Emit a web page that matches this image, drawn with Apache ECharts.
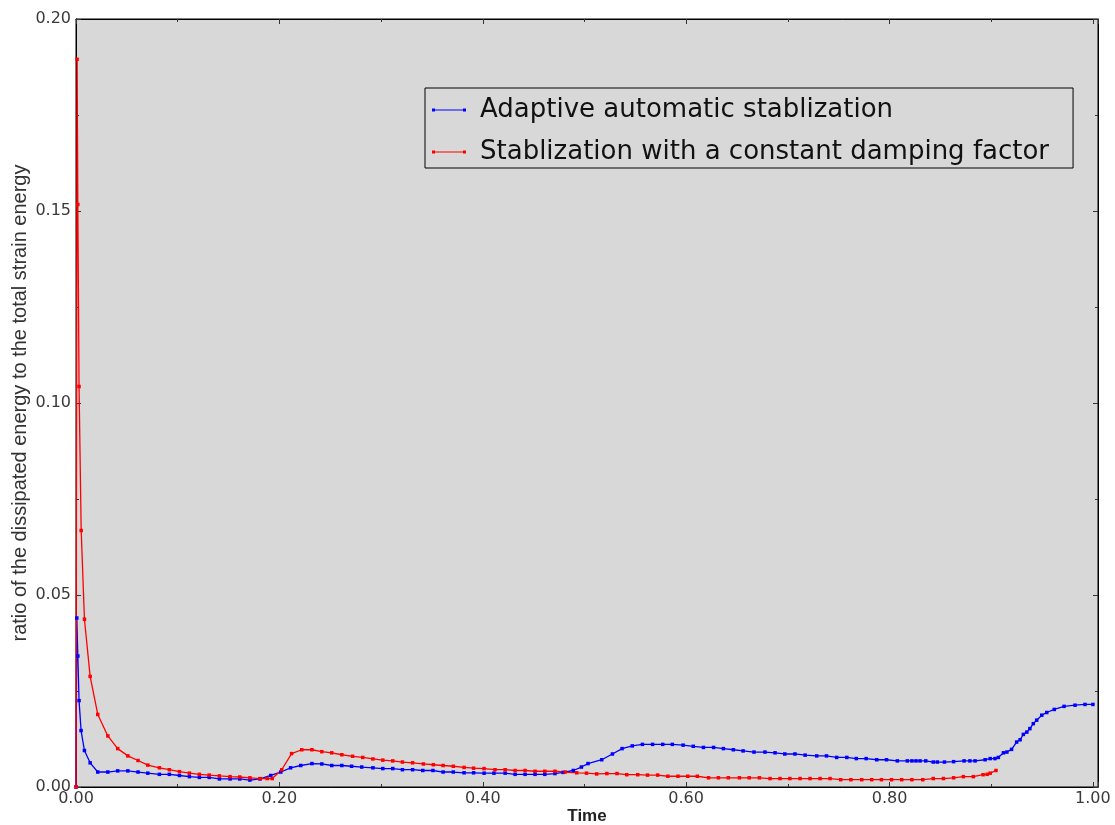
<!DOCTYPE html>
<html>
<head>
<meta charset="utf-8">
<script src="https://cdn.jsdelivr.net/npm/echarts@6/dist/echarts.min.js"></script>
<style>
html,body{margin:0;padding:0;background:#fff;}
#chart{width:1115px;height:825px;}
</style>
</head>
<body>
<div id="chart"></div>
<script>
const seriesNames = ['Adaptive automatic stablization', 'Stablization with a constant damping factor'];

const adaptiveTime = [0, 0.0008, 0.0018, 0.003, 0.005, 0.0083, 0.0139, 0.0214, 0.0313, 0.041, 0.051, 0.061, 0.0706, 0.082, 0.0918, 0.1017, 0.1115, 0.1213, 0.131, 0.141, 0.1515, 0.161, 0.171, 0.181, 0.1915, 0.2014, 0.211, 0.221, 0.232, 0.2417, 0.2515, 0.2614, 0.271, 0.281, 0.292, 0.3017, 0.3115, 0.321, 0.331, 0.341, 0.351, 0.361, 0.371, 0.3816, 0.391, 0.4013, 0.411, 0.422, 0.4318, 0.4416, 0.4514, 0.461, 0.471, 0.479, 0.489, 0.497, 0.5035, 0.517, 0.5275, 0.537, 0.547, 0.557, 0.567, 0.577, 0.5864, 0.597, 0.607, 0.617, 0.627, 0.6366, 0.6464, 0.656, 0.6667, 0.6775, 0.6874, 0.697, 0.707, 0.717, 0.7284, 0.738, 0.748, 0.758, 0.7673, 0.777, 0.7874, 0.797, 0.8077, 0.8175, 0.822, 0.826, 0.83, 0.8356, 0.843, 0.847, 0.854, 0.863, 0.8733, 0.879, 0.8841, 0.894, 0.899, 0.9037, 0.907, 0.912, 0.9154, 0.92, 0.925, 0.9284, 0.9316, 0.935, 0.938, 0.9414, 0.9447, 0.9497, 0.9546, 0.962, 0.9716, 0.9824, 0.9922, 1.0];
const adaptiveRatio = [0, 0.044, 0.0341, 0.0225, 0.0147, 0.0095, 0.0063, 0.0039, 0.0039, 0.0042, 0.0042, 0.0039, 0.0036, 0.0033, 0.0033, 0.003, 0.0027, 0.0025, 0.0025, 0.0021, 0.0021, 0.0021, 0.0018, 0.0021, 0.003, 0.0039, 0.005, 0.0056, 0.0061, 0.006, 0.0056, 0.0056, 0.0054, 0.0052, 0.005, 0.0048, 0.0048, 0.0045, 0.0045, 0.0043, 0.0043, 0.0039, 0.0039, 0.0037, 0.0037, 0.0036, 0.0036, 0.0036, 0.0033, 0.0033, 0.0033, 0.0033, 0.0035, 0.0038, 0.0043, 0.0052, 0.0061, 0.0071, 0.0086, 0.01, 0.0107, 0.0111, 0.0111, 0.0111, 0.0111, 0.0109, 0.0106, 0.0103, 0.0103, 0.01, 0.0097, 0.0094, 0.0091, 0.0091, 0.0089, 0.0086, 0.0086, 0.0083, 0.0081, 0.0081, 0.0077, 0.0077, 0.0074, 0.0074, 0.0071, 0.0071, 0.0068, 0.0068, 0.0068, 0.0068, 0.0068, 0.0068, 0.0065, 0.0065, 0.0065, 0.0066, 0.0068, 0.0068, 0.0068, 0.0071, 0.0074, 0.0074, 0.0077, 0.0089, 0.0091, 0.0098, 0.0117, 0.0123, 0.0137, 0.0143, 0.0152, 0.0165, 0.0174, 0.0187, 0.0194, 0.0202, 0.021, 0.0213, 0.0215, 0.0215];

const constantTime = [0, 0.0011, 0.0018, 0.003, 0.0051, 0.0083, 0.0139, 0.0214, 0.0313, 0.041, 0.051, 0.061, 0.0706, 0.082, 0.0918, 0.1017, 0.1115, 0.1213, 0.131, 0.141, 0.1515, 0.161, 0.171, 0.181, 0.188, 0.193, 0.2023, 0.212, 0.222, 0.232, 0.2417, 0.2515, 0.2614, 0.272, 0.282, 0.292, 0.3017, 0.3115, 0.321, 0.331, 0.3416, 0.3514, 0.361, 0.371, 0.3816, 0.391, 0.4013, 0.412, 0.422, 0.4318, 0.4416, 0.4514, 0.461, 0.471, 0.481, 0.4924, 0.502, 0.512, 0.522, 0.532, 0.5416, 0.5524, 0.562, 0.572, 0.582, 0.592, 0.6016, 0.611, 0.622, 0.6317, 0.6415, 0.6524, 0.662, 0.672, 0.6825, 0.6923, 0.702, 0.712, 0.7218, 0.7317, 0.7415, 0.752, 0.762, 0.7727, 0.7825, 0.792, 0.802, 0.812, 0.822, 0.8327, 0.843, 0.853, 0.863, 0.8726, 0.8824, 0.892, 0.896, 0.899, 0.9047];
const constantRatio = [0, 0.1895, 0.1517, 0.1043, 0.0668, 0.0437, 0.0288, 0.0189, 0.0133, 0.01, 0.0081, 0.0069, 0.0057, 0.005, 0.0045, 0.004, 0.0036, 0.0033, 0.0031, 0.0029, 0.0027, 0.0026, 0.0024, 0.0022, 0.0022, 0.0022, 0.0045, 0.0087, 0.0097, 0.0097, 0.0092, 0.0089, 0.0084, 0.008, 0.0077, 0.0073, 0.007, 0.0068, 0.0065, 0.0063, 0.006, 0.0058, 0.0056, 0.0054, 0.0051, 0.0049, 0.0048, 0.0045, 0.0045, 0.0043, 0.0043, 0.0041, 0.0041, 0.0041, 0.0039, 0.0037, 0.0036, 0.0034, 0.0035, 0.0035, 0.0032, 0.0032, 0.0031, 0.0031, 0.0028, 0.0028, 0.0028, 0.0028, 0.0024, 0.0024, 0.0024, 0.0024, 0.0024, 0.0024, 0.0022, 0.0022, 0.0022, 0.0022, 0.0022, 0.0022, 0.0022, 0.0019, 0.0019, 0.0019, 0.0019, 0.0019, 0.0019, 0.0019, 0.0019, 0.0019, 0.0022, 0.0022, 0.0024, 0.0027, 0.0027, 0.0032, 0.0033, 0.0036, 0.0043];

const xTickLabels = ['0.00', '0.20', '0.40', '0.60', '0.80', '1.00'];
const yTickLabels = ['0.00', '0.05', '0.10', '0.15', '0.20'];

function zip(xs, ys) { return xs.map((x, i) => [x, ys[i]]); }

function labelFrom(list, step) {
  return function (v) {
    const k = Math.round(v / step);
    if (Math.abs(v / step - k) > 1e-6) return '';
    return list[k] !== undefined ? list[k] : '';
  };
}

const legendIcon = 'path://M0,0 L3,0 L3,1 L31,1 L31,0 L34,0 L34,3 L31,3 L31,2 L3,2 L3,3 L0,3 Z';
const tickColor = '#333';
const labelFont = { fontFamily: 'DejaVu Sans', fontSize: 16, color: '#3a3a3a' };

function xAxisCfg(pos, showLabels) {
  return {
    type: 'value', min: 0, max: 1.005, interval: 0.2, position: pos,
    axisLine: { show: true, onZero: false, lineStyle: { color: '#000', width: 1 } },
    axisTick: { show: true, inside: true, length: 5, lineStyle: { color: tickColor } },
    minorTick: { show: true, splitNumber: 2, length: 3, lineStyle: { color: tickColor } },
    splitLine: { show: false },
    minorSplitLine: { show: false },
    axisLabel: Object.assign({ show: showLabels, margin: 4, formatter: labelFrom(xTickLabels, 0.2) }, labelFont),
    name: showLabels ? 'Time' : '',
    nameLocation: 'middle', nameGap: 21, nameMoveOverlap: false,
    nameTextStyle: { fontFamily: 'Liberation Sans', fontWeight: 'bold', fontSize: 17, color: '#222' }
  };
}
function yAxisCfg(pos, showLabels) {
  return {
    type: 'value', min: 0, max: 0.2, interval: 0.05, position: pos,
    axisLine: { show: true, onZero: false, lineStyle: { color: '#000', width: 1 } },
    axisTick: { show: true, inside: true, length: 5, lineStyle: { color: tickColor } },
    minorTick: { show: true, splitNumber: 2, length: 3, lineStyle: { color: tickColor } },
    splitLine: { show: false },
    minorSplitLine: { show: false },
    axisLabel: Object.assign({ show: showLabels, margin: 5, formatter: labelFrom(yTickLabels, 0.05) }, labelFont),
    name: showLabels ? 'ratio of the dissipated energy to the total strain energy' : '',
    nameLocation: 'middle', nameRotate: 90, nameGap: 46, nameMoveOverlap: false,
    nameTextStyle: { fontFamily: 'Liberation Sans', fontSize: 20, color: '#333' }
  };
}

const chart = echarts.init(document.getElementById('chart'), null, { renderer: 'canvas' });
chart.setOption({
  animation: false,
  backgroundColor: '#ffffff',
  grid: { left: 76, right: 17, top: 19, bottom: 38, show: true, backgroundColor: '#d8d8d8', borderColor: '#000', borderWidth: 1, containLabel: false, outerBoundsMode: 'none' },
  xAxis: [xAxisCfg('bottom', true), xAxisCfg('top', false)],
  yAxis: [yAxisCfg('left', true), yAxisCfg('right', false)],
  legend: {
    orient: 'vertical', left: 425, top: 88,
    padding: [7, 24, 1, 7],
    itemWidth: 34, itemHeight: 3, itemGap: 12,
    borderColor: '#000', borderWidth: 1, borderRadius: 0,
    backgroundColor: 'transparent',
    textStyle: { fontFamily: 'DejaVu Sans', fontSize: 26, color: '#111', lineHeight: 30, padding: [0, 0, 0, 9] },
    data: [
      { name: seriesNames[0], icon: legendIcon },
      { name: seriesNames[1], icon: legendIcon }
    ]
  },
  series: [
    {
      name: seriesNames[0], type: 'line', xAxisIndex: 0, yAxisIndex: 0,
      data: zip(adaptiveTime, adaptiveRatio),
      symbol: 'rect', symbolSize: 3.5, showSymbol: true,
      color: '#0000ff',
      lineStyle: { color: '#0000ff', width: 1.3 },
      itemStyle: { color: '#0000ff' }
    },
    {
      name: seriesNames[1], type: 'line', xAxisIndex: 0, yAxisIndex: 0,
      data: zip(constantTime, constantRatio),
      symbol: 'rect', symbolSize: 3.5, showSymbol: true,
      color: '#ff0000',
      lineStyle: { color: '#ff0000', width: 1.3 },
      itemStyle: { color: '#ff0000' }
    }
  ]
});
</script>
</body>
</html>
